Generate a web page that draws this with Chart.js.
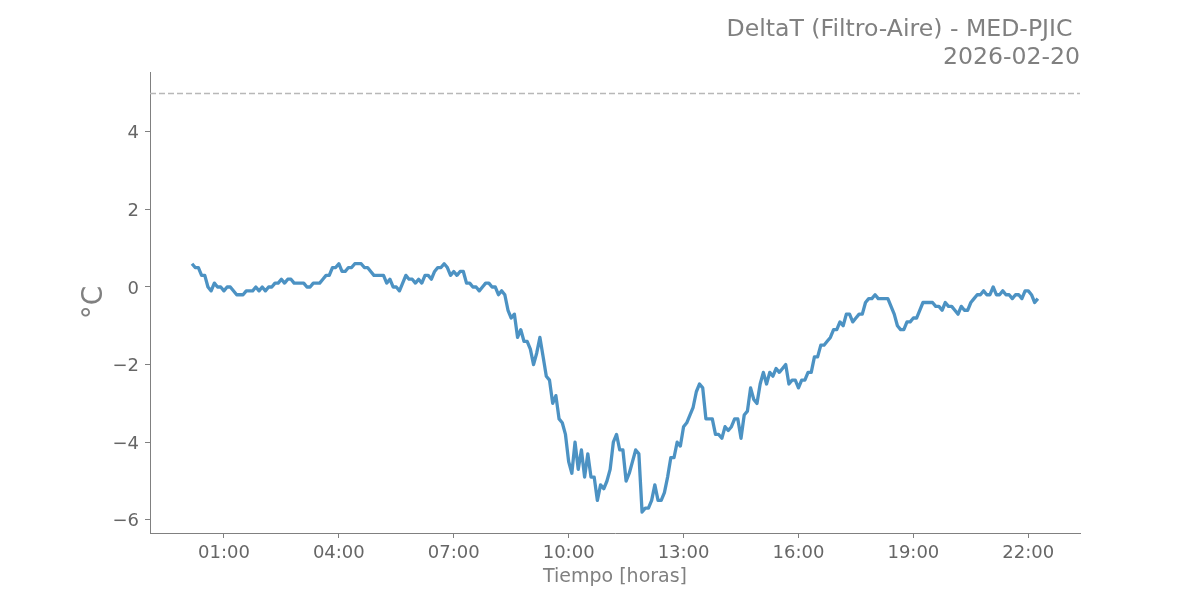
<!DOCTYPE html>
<html>
<head>
<meta charset="utf-8">
<script src="https://cdn.jsdelivr.net/npm/chart.js@4.4.1/dist/chart.umd.min.js"></script>
<style>
  html, body { margin: 0; padding: 0; background: #fff; }
  #wrap { width: 1200px; height: 600px; }
</style>
</head>
<body>
<div id="wrap"><canvas id="deltaChart" width="1200" height="600"></canvas></div>
<script>
// time of day (HH:MM) and DeltaT (Filtro - Aire) in °C
const times = [
  '00:10','00:15','00:20','00:25','00:30','00:35','00:40','00:45','00:50','00:55',
  '01:00','01:05','01:10','01:20','01:25','01:30','01:35','01:45','01:50','01:55',
  '02:00','02:05','02:10','02:15','02:20','02:25','02:30','02:35','02:40','02:45',
  '02:50','03:00','03:05','03:10','03:15','03:20','03:30','03:35','03:40','03:45',
  '03:50','03:55','04:00','04:05','04:10','04:15','04:20','04:25','04:35','04:40',
  '04:45','04:50','04:55','05:00','05:05','05:10','05:15','05:20','05:25','05:30',
  '05:35','05:40','05:45','05:50','05:55','06:00','06:05','06:10','06:15','06:20',
  '06:25','06:30','06:35','06:40','06:45','06:50','06:55','07:00','07:05','07:10',
  '07:15','07:20','07:25','07:30','07:35','07:40','07:45','07:50','07:55','08:00',
  '08:05','08:10','08:15','08:20','08:25','08:30','08:35','08:40','08:45','08:50',
  '08:55','09:00','09:05','09:10','09:15','09:20','09:25','09:30','09:35','09:40',
  '09:45','09:50','09:55','10:00','10:05','10:10','10:15','10:20','10:25','10:30',
  '10:35','10:40','10:45','10:50','10:55','11:00','11:05','11:10','11:15','11:20',
  '11:25','11:30','11:35','11:40','11:45','11:50','11:55','12:00','12:05','12:10',
  '12:15','12:20','12:25','12:30','12:35','12:40','12:45','12:50','12:55','13:00',
  '13:05','13:10','13:15','13:20','13:25','13:30','13:35','13:40','13:45','13:50',
  '13:55','14:00','14:05','14:10','14:15','14:20','14:25','14:30','14:35','14:40',
  '14:45','14:50','14:55','15:00','15:05','15:10','15:15','15:20','15:25','15:30',
  '15:35','15:40','15:45','15:50','15:55','16:00','16:05','16:10','16:15','16:20',
  '16:25','16:30','16:35','16:40','16:45','16:50','16:55','17:00','17:05','17:10',
  '17:15','17:20','17:25','17:30','17:35','17:40','17:45','17:50','17:55','18:00',
  '18:05','18:10','18:15','18:20','18:25','18:30','18:35','18:40','18:45','18:50',
  '18:55','19:00','19:05','19:10','19:15','19:20','19:25','19:30','19:35','19:40',
  '19:45','19:50','19:55','20:00','20:05','20:10','20:15','20:20','20:25','20:30',
  '20:35','20:40','20:45','20:50','20:55','21:00','21:05','21:10','21:15','21:20',
  '21:25','21:30','21:35','21:40','21:45','21:50','21:55','22:00','22:05','22:10',
  '22:15'
];
const deltaT = [
  0.6, 0.5, 0.5, 0.3, 0.3, 0.0, -0.1, 0.1, 0.0, 0.0,
  -0.1, 0.0, 0.0, -0.2, -0.2, -0.2, -0.1, -0.1, 0.0, -0.1,
  0.0, -0.1, 0.0, 0.0, 0.1, 0.1, 0.2, 0.1, 0.2, 0.2,
  0.1, 0.1, 0.1, 0.0, 0.0, 0.1, 0.1, 0.2, 0.3, 0.3,
  0.5, 0.5, 0.6, 0.4, 0.4, 0.5, 0.5, 0.6, 0.6, 0.5,
  0.5, 0.4, 0.3, 0.3, 0.3, 0.3, 0.1, 0.2, 0.0, 0.0,
  -0.1, 0.1, 0.3, 0.2, 0.2, 0.1, 0.2, 0.1, 0.3, 0.3,
  0.2, 0.4, 0.5, 0.5, 0.6, 0.5, 0.3, 0.4, 0.3, 0.4,
  0.4, 0.1, 0.1, 0.0, 0.0, -0.1, 0.0, 0.1, 0.1, 0.0,
  0.0, -0.2, -0.1, -0.2, -0.6, -0.8, -0.7, -1.3, -1.1, -1.4,
  -1.4, -1.6, -2.0, -1.7, -1.3, -1.8, -2.3, -2.4, -3.0, -2.8,
  -3.4, -3.5, -3.8, -4.5, -4.8, -4.0, -4.7, -4.2, -4.9, -4.3,
  -4.9, -4.9, -5.5, -5.1, -5.2, -5.0, -4.7, -4.0, -3.8, -4.2,
  -4.2, -5.0, -4.8, -4.5, -4.2, -4.3, -5.8, -5.7, -5.7, -5.5,
  -5.1, -5.5, -5.5, -5.3, -4.9, -4.4, -4.4, -4.0, -4.1, -3.6,
  -3.5, -3.3, -3.1, -2.7, -2.5, -2.6, -3.4, -3.4, -3.4, -3.8,
  -3.8, -3.9, -3.6, -3.7, -3.6, -3.4, -3.4, -3.9, -3.3, -3.2,
  -2.6, -2.9, -3.0, -2.5, -2.2, -2.5, -2.2, -2.3, -2.1, -2.2,
  -2.1, -2.0, -2.5, -2.4, -2.4, -2.6, -2.4, -2.4, -2.2, -2.2,
  -1.8, -1.8, -1.5, -1.5, -1.4, -1.3, -1.1, -1.1, -0.9, -1.0,
  -0.7, -0.7, -0.9, -0.8, -0.7, -0.7, -0.4, -0.3, -0.3, -0.2,
  -0.3, -0.3, -0.3, -0.3, -0.5, -0.7, -1.0, -1.1, -1.1, -0.9,
  -0.9, -0.8, -0.8, -0.6, -0.4, -0.4, -0.4, -0.4, -0.5, -0.5,
  -0.6, -0.4, -0.5, -0.5, -0.6, -0.7, -0.5, -0.6, -0.6, -0.4,
  -0.3, -0.2, -0.2, -0.1, -0.2, -0.2, 0.0, -0.2, -0.2, -0.1,
  -0.2, -0.2, -0.3, -0.2, -0.2, -0.3, -0.1, -0.1, -0.2, -0.4,
  -0.3
];
const xTicks = [1, 4, 7, 10, 13, 16, 19, 22];   // hours
const yTicks = [-6, -4, -2, 0, 2, 4];
const limit = 5;   // dashed reference line
const titleLines = ['DeltaT (Filtro-Aire) - MED-PJIC ', '2026-02-20'];

function toHours(t) {
    const [h, m] = t.split(':').map(Number);
    return h + m / 60;
}

const points = times.map((t, i) => ({ x: toHours(t), y: deltaT[i] }));

// horizontal dashed line at the limit value
const limitLine = {
    id: 'limitLine',
    beforeDatasetsDraw(chart) {
        const { ctx, chartArea, scales } = chart;
        const y = Math.round(scales.y.getPixelForValue(limit)) + 0.5;
        ctx.save();
        ctx.strokeStyle = '#b8b8b8';
        ctx.lineWidth = 1.5;
        ctx.setLineDash([6, 3]);
        ctx.beginPath();
        ctx.moveTo(chartArea.left, y);
        ctx.lineTo(chartArea.right, y);
        ctx.stroke();
        ctx.restore();
    }
};

const gray = '#808080';
const tickGray = '#666666';

new Chart(document.getElementById('deltaChart').getContext('2d'), {
    type: 'line',
    data: {
        datasets: [{
            data: points,
            borderColor: 'rgba(31, 119, 180, 0.8)',
            borderWidth: 3.3,
            borderJoinStyle: 'round',
            pointRadius: 0,
            tension: 0,
            fill: false
        }]
    },
    plugins: [limitLine],
    options: {
        responsive: false,
        animation: false,
        layout: { padding: { left: 0, right: 120, top: 0, bottom: 0 } },
        plugins: {
            legend: { display: false },
            tooltip: { enabled: false },
            title: {
                display: true,
                text: titleLines,
                align: 'end',
                color: gray,
                font: { family: 'DejaVu Sans', size: 23.6, weight: 'normal', lineHeight: '28px' },
                padding: { top: 16, bottom: 0 }
            }
        },
        scales: {
            x: {
                type: 'linear',
                min: -0.93,
                max: 23.35,
                afterBuildTicks: (scale) => { scale.ticks = xTicks.map(v => ({ value: v })); },
                afterFit: (scale) => { scale.height = 67; },
                ticks: {
                    color: tickGray,
                    font: { family: 'DejaVu Sans', size: 18 },
                    padding: 5,
                    maxRotation: 0,
                    callback: (v) => String(v).padStart(2, '0') + ':00'
                },
                grid: { display: true, drawOnChartArea: false, drawTicks: true, tickLength: 5, color: gray },
                border: { display: true, color: gray, width: 1 },
                title: {
                    display: true,
                    text: 'Tiempo [horas]',
                    color: gray,
                    font: { family: 'DejaVu Sans', size: 19 },
                    padding: { top: 0, bottom: 12 }
                }
            },
            y: {
                min: -6.34,
                max: 5.54,
                afterBuildTicks: (scale) => { scale.ticks = yTicks.map(v => ({ value: v })); },
                afterFit: (scale) => { scale.width = 150; },
                ticks: {
                    color: tickGray,
                    font: { family: 'DejaVu Sans', size: 18 },
                    padding: 6,
                    labelOffset: 2,
                    callback: (v) => (v < 0 ? '\u2212' + Math.abs(v) : String(v))
                },
                grid: { display: true, drawOnChartArea: false, drawTicks: true, tickLength: 5, color: gray },
                border: { display: true, color: gray, width: 1 },
                title: {
                    display: true,
                    text: '°C',
                    color: gray,
                    font: { family: 'DejaVu Sans', size: 28 },
                    padding: { top: 78, bottom: 0 }
                }
            }
        }
    }
});
</script>
</body>
</html>
